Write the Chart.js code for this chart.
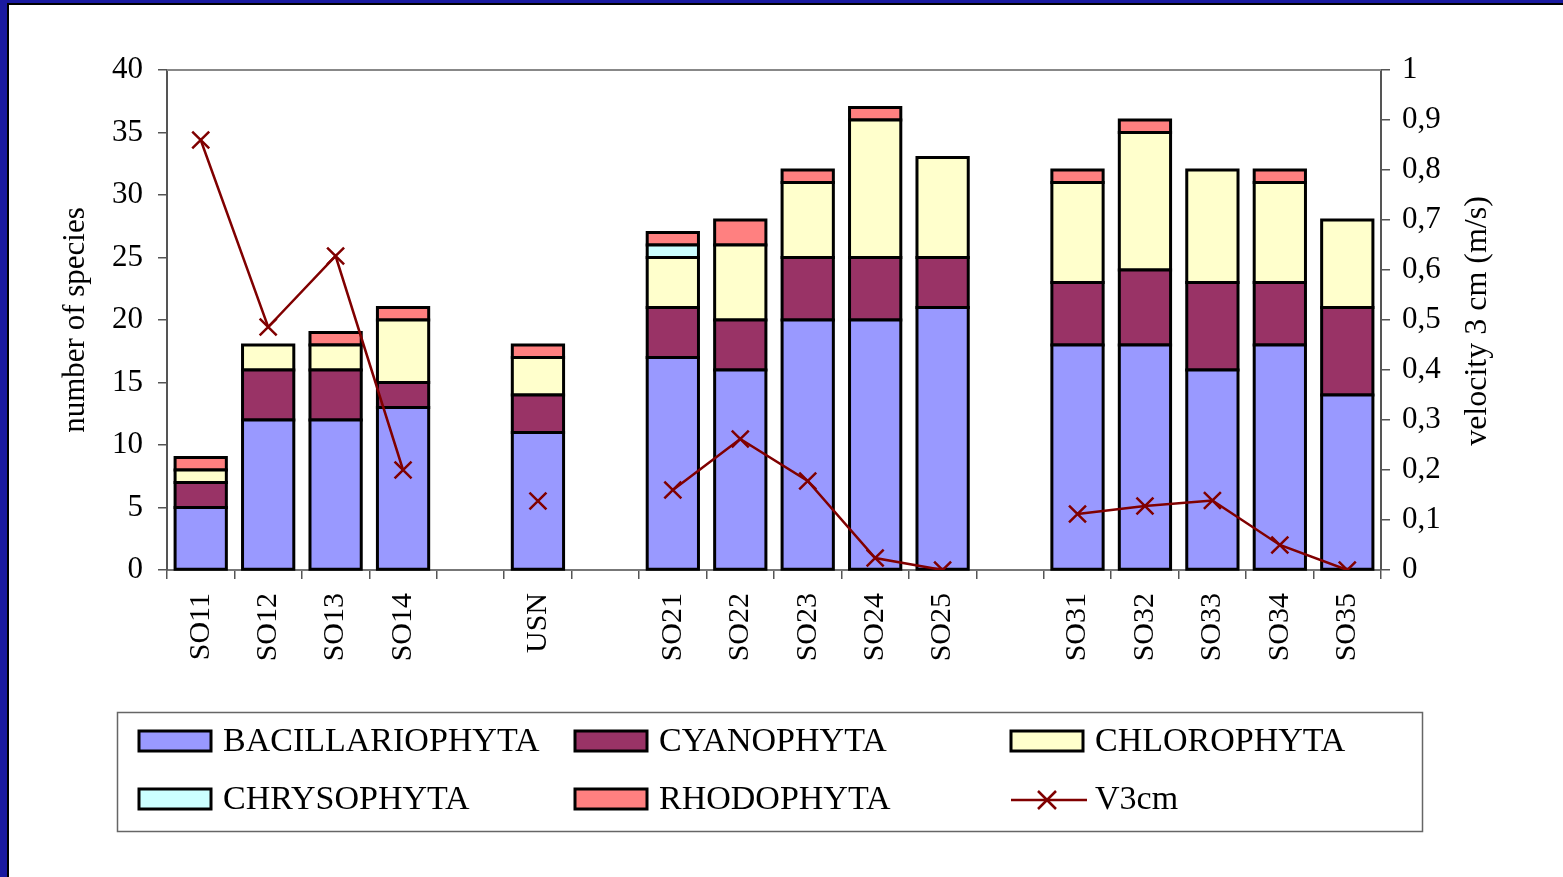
<!DOCTYPE html>
<html>
<head>
<meta charset="utf-8">
<script src="https://cdn.jsdelivr.net/npm/chart.js@4.4.1/dist/chart.umd.min.js"></script>
<style>
  html, body { margin: 0; padding: 0; background: #fff; }
  canvas { display: block; }
</style>
</head>
<body>
<canvas id="c" width="1563" height="877"></canvas>
<script>
// Categories (empty strings are the gaps between station groups)
const categories = ['SO11','SO12','SO13','SO14','','USN','','SO21','SO22','SO23','SO24','SO25','','SO31','SO32','SO33','SO34','SO35'];

// Number of species per group
const bacillariophyta = [5, 12, 12, 13, null, 11, null, 17, 16, 20, 20, 21, null, 18, 18, 16, 18, 14];
const cyanophyta      = [2, 4, 4, 2, null, 3, null, 4, 4, 5, 5, 4, null, 5, 6, 7, 5, 7];
const chlorophyta     = [1, 2, 2, 5, null, 3, null, 4, 6, 6, 11, 8, null, 8, 11, 9, 8, 7];
const chrysophyta     = [null, null, null, null, null, null, null, 1, null, null, null, null, null, null, null, null, null, null];
const rhodophyta      = [1, null, 1, 1, null, 1, null, 1, 2, 1, 1, null, null, 1, 1, null, 1, null];

// Velocity at 3 cm (m/s)
const v3cm = [0.86, 0.486, 0.628, 0.2, null, 0.138, null, 0.16, 0.262, 0.178, 0.024, 0, null, 0.112, 0.128, 0.139, 0.05, 0];

// Axis ticks
const leftTicks = [0, 5, 10, 15, 20, 25, 30, 35, 40];
const rightTicks = [0, 0.1, 0.2, 0.3, 0.4, 0.5, 0.6, 0.7, 0.8, 0.9, 1];

const FONT = "'Liberation Serif', 'Times New Roman', serif";

const frameAndLegend = {
  id: 'frameAndLegend',
  beforeDraw(chart) {
    const ctx = chart.ctx;
    ctx.save();
    ctx.fillStyle = '#ffffff';
    ctx.fillRect(0, 0, chart.width, chart.height);
    ctx.fillStyle = '#1a1aa0';
    ctx.fillRect(0, 0, 8, chart.height);
    ctx.fillRect(0, 0, chart.width, 3);
    ctx.fillStyle = '#000';
    ctx.fillRect(7, 3, 2, chart.height);
    ctx.fillRect(7, 3, chart.width, 2);
    ctx.restore();
  },
  afterDatasetDraw(chart, args) {
    const meta = args.meta;
    if (meta.type !== 'bar') return;
    const ctx = chart.ctx;
    ctx.save();
    ctx.strokeStyle = '#000';
    ctx.lineWidth = 3;
    meta.data.forEach((el, i) => {
      const v = chart.data.datasets[args.index].data[i];
      if (v === null || v === undefined) return;
      const p = el.getProps(['x', 'y', 'base', 'width'], true);
      const l = p.x - p.width / 2, r = p.x + p.width / 2;
      const t = Math.min(p.y, p.base), b = Math.max(p.y, p.base);
      ctx.strokeRect(l, t, r - l, b - t);
    });
    ctx.restore();
  },
  afterDraw(chart) {
    const ctx = chart.ctx;
    const a = chart.chartArea;
    ctx.save();
    // top border of plot area
    ctx.strokeStyle = '#888';
    ctx.lineWidth = 2;
    ctx.beginPath();
    ctx.moveTo(a.left, a.top);
    ctx.lineTo(a.right, a.top);
    ctx.stroke();

    // right axis title (reads bottom to top)
    ctx.fillStyle = '#000';
    ctx.font = '32px ' + FONT;
    ctx.textAlign = 'center';
    ctx.textBaseline = 'middle';
    ctx.translate(1478, (a.top + a.bottom) / 2 + 1);
    ctx.rotate(-Math.PI / 2);
    ctx.fillText('velocity 3 cm (m/s)', 0, 0);
    ctx.restore();

    // legend
    ctx.save();
    ctx.strokeStyle = '#666';
    ctx.lineWidth = 1.5;
    ctx.strokeRect(117.5, 712.5, 1305, 119);
    const ds = chart.data.datasets;
    const order = [0, 1, 2, 3, 4, 5];
    const colX = [139, 575, 1011];
    const rowY = [741, 799];
    ctx.font = '34px ' + FONT;
    ctx.textAlign = 'left';
    ctx.textBaseline = 'middle';
    order.forEach((di, i) => {
      const d = ds[di];
      const cx = colX[i % 3];
      const cy = rowY[Math.floor(i / 3)];
      if (d.type === 'line') {
        ctx.strokeStyle = d.borderColor;
        ctx.lineWidth = 2.5;
        ctx.beginPath();
        ctx.moveTo(cx, cy + 1);
        ctx.lineTo(cx + 76, cy + 1);
        ctx.stroke();
        const r = 9;
        ctx.beginPath();
        ctx.moveTo(cx + 36 - r, cy + 1 - r);
        ctx.lineTo(cx + 36 + r, cy + 1 + r);
        ctx.moveTo(cx + 36 - r, cy + 1 + r);
        ctx.lineTo(cx + 36 + r, cy + 1 - r);
        ctx.stroke();
      } else {
        ctx.fillStyle = d.backgroundColor;
        ctx.fillRect(cx, cy - 10, 72, 20);
        ctx.strokeStyle = '#000';
        ctx.lineWidth = 3;
        ctx.strokeRect(cx, cy - 10, 72, 20);
      }
      ctx.fillStyle = '#000';
      ctx.fillText(d.label, cx + 84, cy + 1);
    });
    ctx.restore();
  }
};

function barSet(label, data, color) {
  return {
    type: 'bar', label, data, backgroundColor: color,
    borderWidth: 0,
    stack: 's', yAxisID: 'y', order: 1,
    barPercentage: 0.76, categoryPercentage: 1.0
  };
}

new Chart(document.getElementById('c'), {
  data: {
    labels: categories,
    datasets: [
      barSet('BACILLARIOPHYTA', bacillariophyta, '#9999FF'),
      barSet('CYANOPHYTA', cyanophyta, '#993366'),
      barSet('CHLOROPHYTA', chlorophyta, '#FFFFCC'),
      barSet('CHRYSOPHYTA', chrysophyta, '#CCFFFF'),
      barSet('RHODOPHYTA', rhodophyta, '#FF8080'),
      {
        type: 'line', label: 'V3cm', data: v3cm, yAxisID: 'y2', order: 0,
        borderColor: '#800000', backgroundColor: '#800000', borderWidth: 2.5,
        tension: 0, spanGaps: false, fill: false,
        pointStyle: 'crossRot', pointRadius: 12, pointBorderWidth: 2.5,
        pointBorderColor: '#800000'
      }
    ]
  },
  options: {
    responsive: false,
    animation: false,
    devicePixelRatio: 1,
    layout: { padding: { left: 10, right: 10, top: 70, bottom: 10 } },
    plugins: { legend: { display: false }, tooltip: { enabled: false } },
    scales: {
      x: {
        stacked: true,
        grid: { display: true, offset: true, drawOnChartArea: false, drawTicks: true, tickLength: 9, color: '#555', lineWidth: 1.5 },
        border: { display: true, color: '#777', width: 2 },
        ticks: { autoSkip: false, maxRotation: 90, minRotation: 90, padding: 14, color: '#000', font: { family: FONT, size: 30 } },
        afterFit(s) { s.height = 877 - 570 - 10; }
      },
      y: {
        position: 'left', stacked: true, min: 0, max: 40,
        afterBuildTicks(s) { s.ticks = leftTicks.map(v => ({ value: v })); },
        grid: { display: true, drawOnChartArea: false, drawTicks: true, tickLength: 9, color: '#555', lineWidth: 1.5 },
        border: { display: true, color: '#555', width: 2 },
        ticks: { padding: 15, color: '#000', font: { family: FONT, size: 31 } },
        title: { display: true, text: 'number of species', color: '#000', font: { family: FONT, size: 31 }, padding: { top: 47, bottom: 0 } },
        afterFit(s) { s.width = 167 - 10; }
      },
      y2: {
        position: 'right', min: 0, max: 1,
        afterBuildTicks(s) { s.ticks = rightTicks.map(v => ({ value: v })); },
        grid: { display: true, drawOnChartArea: false, drawTicks: true, tickLength: 9, color: '#555', lineWidth: 1.5 },
        border: { display: true, color: '#555', width: 2 },
        ticks: {
          padding: 12, color: '#000', font: { family: FONT, size: 31 },
          callback: v => (Math.round(v * 10) / 10).toString().replace('.', ',')
        },
        afterFit(s) { s.width = 1563 - 1381 - 10; }
      }
    }
  },
  plugins: [frameAndLegend]
});
</script>
</body>
</html>
